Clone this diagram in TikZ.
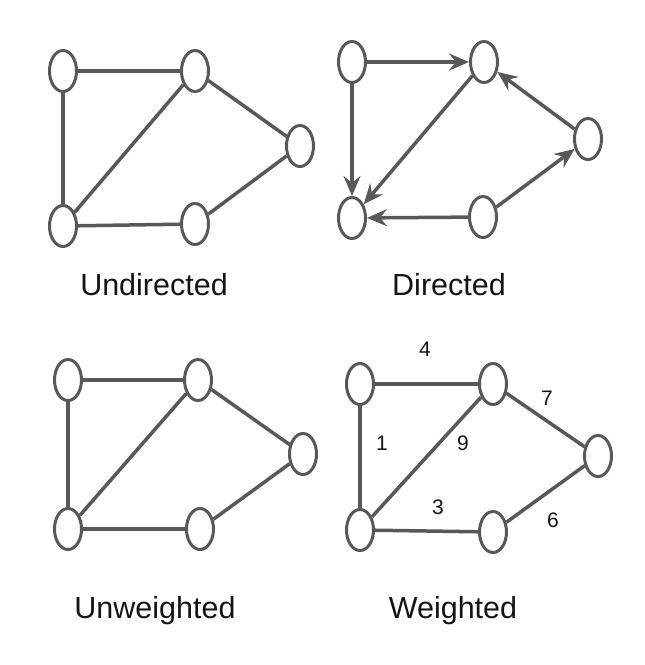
\documentclass[tikz,border=0pt]{standalone}
\usepackage{fontspec}
\setmainfont{Liberation Sans}
\usepackage{tikz}
\usetikzlibrary{arrows.meta,shapes.geometric,positioning}
\usepackage{xcolor}
\definecolor{grgray}{RGB}{88,88,88}
\definecolor{grtext}{RGB}{20,20,20}
\tikzstyle{vertex} = [ellipse, minimum width=27pt, minimum height=41pt, inner sep=0pt, draw=grgray, line width=3pt, fill=white]
\tikzstyle{edge} = [line width=3.5pt, color=grgray]
\tikzstyle{arrow} = [line width=3.5pt, -{Stealth[length=20pt,width=17pt,inset=7pt]}, color=grgray]
\tikzstyle{caption} = [anchor=base, inner sep=0pt, text=grtext, font=\fontsize{30.5}{36}\selectfont]
\tikzstyle{weight} = [inner sep=0pt, text=grtext, font=\fontsize{21}{25}\selectfont]

\begin{document}
\begin{tikzpicture}[x=1pt, y=-1pt]
\useasboundingbox (0,0) rectangle (645,665);
% Undirected
\node (u1) [vertex] at (63,71) {};
\node (u2) [vertex] at (195,71) {};
\node (u3) [vertex] at (300,146) {};
\node (u4) [vertex] at (63,226) {};
\node (u5) [vertex] at (195,224) {};
\draw[edge] (u1) -- (u2);
\draw[edge] (u1) -- (u4);
\draw[edge] (u2) -- (u4);
\draw[edge] (u2) -- (u3);
\draw[edge] (u4) -- (u5);
\draw[edge] (u5) -- (u3);
\node (ucap) [caption] at (154,295) {Undirected};

% Directed
\node (d1) [vertex] at (352,62) {};
\node (d2) [vertex] at (484,62) {};
\node (d3) [vertex] at (588,139) {};
\node (d4) [vertex] at (352,218) {};
\node (d5) [vertex] at (483,217) {};
\draw[arrow] (d1) -- (d2);
\draw[arrow] (d1) -- (d4);
\draw[arrow] (d2) -- (d4);
\draw[arrow] (d3) -- (d2);
\draw[arrow] (d5) -- (d3);
\draw[arrow] (d5) -- (d4);
\node (dcap) [caption] at (449,295) {Directed};

% Unweighted
\node (n1) [vertex] at (68,380) {};
\node (n2) [vertex] at (198,380) {};
\node (n3) [vertex] at (303,454) {};
\node (n4) [vertex] at (68,529) {};
\node (n5) [vertex] at (200,529) {};
\draw[edge] (n1) -- (n2);
\draw[edge] (n1) -- (n4);
\draw[edge] (n2) -- (n4);
\draw[edge] (n2) -- (n3);
\draw[edge] (n4) -- (n5);
\draw[edge] (n5) -- (n3);
\node (ncap) [caption] at (155,618) {Unweighted};

% Weighted
\node (w1) [vertex] at (360,384) {};
\node (w2) [vertex] at (493,384) {};
\node (w3) [vertex] at (598,456) {};
\node (w4) [vertex] at (360,530) {};
\node (w5) [vertex] at (493,532) {};
\draw[edge] (w1) -- (w2);
\draw[edge] (w1) -- (w4);
\draw[edge] (w2) -- (w4);
\draw[edge] (w2) -- (w3);
\draw[edge] (w4) -- (w5);
\draw[edge] (w5) -- (w3);
\node (l4) [weight] at (425,349) {4};
\node (l7) [weight] at (547,398) {7};
\node (l1) [weight] at (382,443) {1};
\node (l9) [weight] at (463,443) {9};
\node (l3) [weight] at (438,507) {3};
\node (l6) [weight] at (553,520) {6};
\node (wcap) [caption] at (453,618) {Weighted};
\end{tikzpicture}
\end{document}
